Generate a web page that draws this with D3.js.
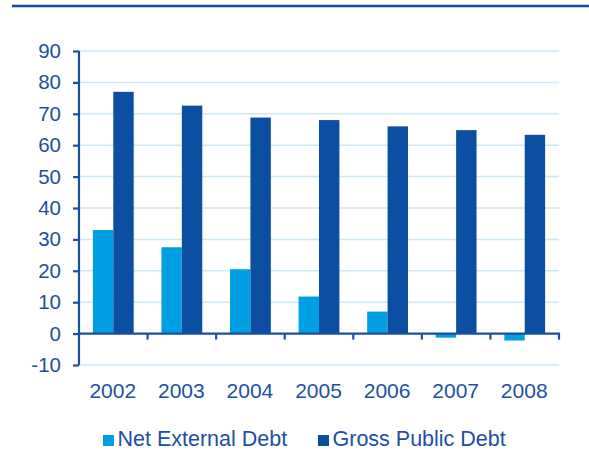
<!DOCTYPE html>
<html>
<head>
<meta charset="utf-8">
<script src="https://cdn.jsdelivr.net/npm/d3@7"></script>
<style>
  html, body { margin: 0; padding: 0; background: #fff; }
  svg { display: block; font-family: "Liberation Sans", Arial, sans-serif; }
</style>
</head>
<body>
<svg id="chart" width="589" height="473"></svg>
<script>
// Debt ratios by year (% of GDP)
const years = ["2002", "2003", "2004", "2005", "2006", "2007", "2008"];
const netExternalDebt = [33, 27.5, 20.5, 11.8, 7.0, -1.3, -2.2];
const grossPublicDebt = [77, 72.6, 68.8, 68, 66, 64.8, 63.3];
const seriesNames = ["Net External Debt", "Gross Public Debt"];
const yTicks = [-10, 0, 10, 20, 30, 40, 50, 60, 70, 80, 90];

const colors = ["#009fe3", "#0b4ea2"];
const axisColor = "#1a4fa3";
const textColor = "#1d50a5";
const gridColor = "#cde9f8";

const svg = d3.select("#chart");
const plotLeft = 79, plotRight = 559, plotTop = 51, plotBottom = 365;

// Header rule
svg.append("line")
  .attr("x1", 12).attr("x2", 589)
  .attr("y1", 6).attr("y2", 6)
  .attr("stroke", "#0b4ea2").attr("stroke-width", 2.5);

const x = d3.scaleBand().domain(years).range([plotLeft, plotRight]).paddingInner(0).paddingOuter(0);
const y = d3.scaleLinear().domain([-10, 90]).range([plotBottom, plotTop]);
const sub = d3.scaleBand().domain([0, 1]).range([0, x.bandwidth()]).paddingInner(0).paddingOuter(0.68);

// Gridlines
svg.append("g").selectAll("line")
  .data(yTicks.filter(d => d !== 0))
  .join("line")
  .attr("x1", plotLeft).attr("x2", plotRight)
  .attr("y1", d => y(d)).attr("y2", d => y(d))
  .attr("stroke", gridColor).attr("stroke-width", 1.5);

// Bars: one group per year, net external then gross public
const rows = years.map((yr, i) => ({ yr, vals: [netExternalDebt[i], grossPublicDebt[i]] }));
const groups = svg.append("g").selectAll("g")
  .data(rows).join("g")
  .attr("transform", d => `translate(${x(d.yr)},0)`);
groups.selectAll("rect")
  .data(d => d.vals.map((v, k) => ({ v, k })))
  .join("rect")
  .attr("x", d => sub(d.k))
  .attr("width", sub.bandwidth())
  .attr("y", d => y(Math.max(0, d.v)))
  .attr("height", d => Math.abs(y(d.v) - y(0)))
  .attr("fill", d => colors[d.k]);

// Y axis
const yAxis = svg.append("g")
  .attr("transform", `translate(${plotLeft},0)`)
  .call(d3.axisLeft(y).tickValues(yTicks).tickSize(6).tickPadding(12).tickFormat(d => String(d)));
yAxis.select(".domain").attr("stroke", axisColor).attr("stroke-width", 2.2)
  .attr("d", `M0,${y(90)}V${y(-10)}`);
yAxis.selectAll(".tick line").attr("stroke", axisColor).attr("stroke-width", 2.2);
yAxis.selectAll(".tick text")
  .attr("fill", textColor).attr("font-size", 20.5)
  .attr("font-family", "Liberation Sans, Arial, sans-serif");

// X axis along zero, ticks at category boundaries
const xAxis = svg.append("g")
  .attr("transform", `translate(0,${y(0)})`);
xAxis.append("line")
  .attr("x1", plotLeft).attr("x2", plotRight + 1)
  .attr("stroke", axisColor).attr("stroke-width", 2.2);
xAxis.selectAll(".bound")
  .data(years.slice(1).concat(["end"]))
  .join("line")
  .attr("class", "bound")
  .attr("x1", d => d === "end" ? plotRight : x(d))
  .attr("x2", d => d === "end" ? plotRight : x(d))
  .attr("y1", 0).attr("y2", 6)
  .attr("stroke", axisColor).attr("stroke-width", 2.2);

// Year labels
svg.append("g").selectAll("text")
  .data(years).join("text")
  .attr("x", d => x(d) + x.bandwidth() / 2 - 0.5)
  .attr("y", 397.5)
  .attr("text-anchor", "middle")
  .attr("fill", textColor).attr("font-size", 21)
  .text(d => d);

// Legend
const legendX = [103, 318];
const legend = svg.append("g").selectAll("g")
  .data(seriesNames).join("g")
  .attr("transform", (d, i) => `translate(${legendX[i]},435)`);
legend.append("rect").attr("width", 11).attr("height", 11).attr("fill", (d, i) => colors[i]);
legend.append("text")
  .attr("x", 14.5).attr("y", 11)
  .attr("fill", textColor).attr("font-size", 21.5)
  .text(d => d);
</script>
</body>
</html>
